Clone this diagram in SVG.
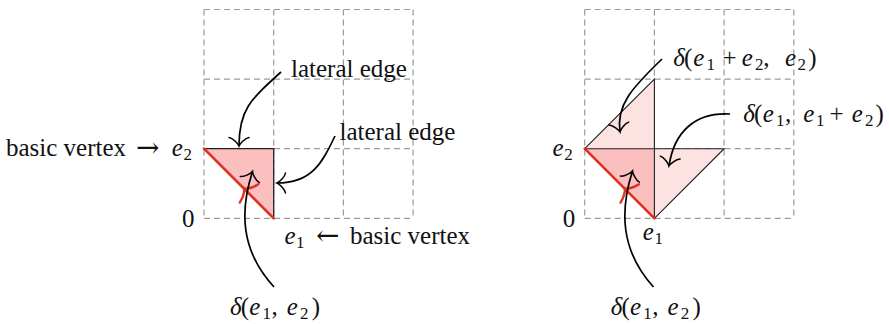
<svg xmlns="http://www.w3.org/2000/svg" width="889" height="324" viewBox="0 0 889 324">
<style>
  .grid { fill: none; stroke: #9a9a9a; stroke-width: 1.2; stroke-dasharray: 6 4; }
  .dark { fill: #fbbfbf; stroke: none; }
  .light { fill: #fde2e2; stroke: none; }
  .edge { fill: none; stroke: #222; stroke-width: 1.3; }
  .thin { fill: none; stroke: #222; stroke-width: 1.1; }
  .red { fill: none; stroke: #e0301e; stroke-width: 2.6; stroke-linecap: round; }
  .redtip { fill: none; stroke: #e0301e; stroke-width: 2.4; stroke-linecap: round; }
  .conn { fill: none; stroke: #000; stroke-width: 1.7; marker-end: url(#to); }
  text { font-family: "Liberation Serif", "Times New Roman", serif; font-size: 25px; fill: #111; }
  .i { font-style: italic; }
  .s { font-size: 17px; }
  .arr { font-family: "DejaVu Serif", serif; font-size: 28px; }
</style>
<defs>
  <marker id="to" markerUnits="userSpaceOnUse" viewBox="-12 -12 14 24" refX="0" refY="0" markerWidth="14" markerHeight="24" orient="auto" overflow="visible">
    <path d="M-8.5,-10 C-8,-6 -1.8,-0.6 0,0 C-1.8,0.6 -8,6 -8.5,10" fill="none" stroke="#000" stroke-width="1.5" stroke-linecap="round"/>
  </marker>
  <path id="rtip" d="M-7,-13 C-6,-7 -2,-1 0,0 C-2,1 -6,7 -7,13"/>
</defs>

<g id="grid-left">
  <path class="grid" d="M204,9.5 V218.3 M273.7,9.5 V218.3 M343.4,9.5 V218.3 M413.1,9.5 V218.3 M204,9.5 H413.1 M204,79.1 H413.1 M204,148.7 H413.1 M204,218.3 H413.1"/>
</g>
<g id="grid-right">
  <path class="grid" d="M584.7,9.5 V218.3 M654.4,9.5 V218.3 M724.1,9.5 V218.3 M793.8,9.5 V218.3 M584.7,9.5 H793.8 M584.7,79.1 H793.8 M584.7,148.7 H793.8 M584.7,218.3 H793.8"/>
</g>

<g id="simplex-left">
  <polygon class="dark" points="204,148.7 273.7,148.7 273.7,218.3"/>
  <path class="edge" d="M204,148.7 H273.7 V218.3"/>
  <path class="red" d="M204,148.7 L273.7,218.3"/>
  <use href="#rtip" class="redtip" transform="translate(244,188.5) rotate(225)"/>
</g>

<g id="simplices-right">
  <polygon class="light" points="584.7,148.7 654.4,79.1 654.4,148.7"/>
  <polygon class="light" points="654.4,148.7 724.1,148.7 654.4,218.3"/>
  <polygon class="dark" points="584.7,148.7 654.4,148.7 654.4,218.3"/>
  <path class="thin" d="M584.7,148.7 L654.4,79.1 V218.3 M584.7,148.7 H724.1 L654.4,218.3"/>
  <path class="red" d="M584.7,148.7 L654.4,218.3"/>
  <use href="#rtip" class="redtip" transform="translate(624.7,188.5) rotate(225)"/>
</g>

<g id="labels-left">
  <text x="6" y="156">basic vertex</text>
  <text class="arr" x="136" y="157">→</text>
  <text y="156"><tspan class="i" x="171.7">e</tspan><tspan class="s" x="183.5" y="160">2</tspan></text>
  <text x="291" y="77">lateral edge</text>
  <text x="339.5" y="140">lateral edge</text>
  <text x="182" y="227">0</text>
  <text y="244"><tspan class="i" x="284.5">e</tspan><tspan class="s" x="296" y="248">1</tspan></text>
  <text class="arr" x="316" y="245">←</text>
  <text x="350" y="244">basic vertex</text>
  <text y="315"><tspan class="i" x="230">δ</tspan><tspan x="240.7">(</tspan><tspan class="i" x="249.3">e</tspan><tspan class="s" x="262.5" y="319">1</tspan><tspan x="271.5" y="315">,</tspan><tspan class="i" x="286.7">e</tspan><tspan class="s" x="300" y="319">2</tspan><tspan x="311.7" y="315">)</tspan></text>
</g>

<g id="labels-right">
  <text y="156"><tspan class="i" x="552.4">e</tspan><tspan class="s" x="564.2" y="160">2</tspan></text>
  <text x="562.7" y="227">0</text>
  <text y="240"><tspan class="i" x="642.7">e</tspan><tspan class="s" x="654.5" y="244">1</tspan></text>
  <text y="66"><tspan class="i" x="673.3">δ</tspan><tspan x="684">(</tspan><tspan class="i" x="693.3">e</tspan><tspan class="s" x="706.5" y="70">1</tspan><tspan x="722.5" y="66">+</tspan><tspan class="i" x="741.7">e</tspan><tspan class="s" x="755" y="70">2</tspan><tspan x="763.3" y="66">,</tspan><tspan class="i" x="785">e</tspan><tspan class="s" x="797.5" y="70">2</tspan><tspan x="808.3" y="66">)</tspan></text>
  <text y="122"><tspan class="i" x="743.3">δ</tspan><tspan x="754">(</tspan><tspan class="i" x="762.7">e</tspan><tspan class="s" x="776" y="126">1</tspan><tspan x="785" y="122">,</tspan><tspan class="i" x="803.3">e</tspan><tspan class="s" x="816" y="126">1</tspan><tspan x="829.5" y="122">+</tspan><tspan class="i" x="851.7">e</tspan><tspan class="s" x="865" y="126">2</tspan><tspan x="875.5" y="122">)</tspan></text>
  <text y="315"><tspan class="i" x="610.7">δ</tspan><tspan x="621.4">(</tspan><tspan class="i" x="630">e</tspan><tspan class="s" x="643.2" y="319">1</tspan><tspan x="652.2" y="315">,</tspan><tspan class="i" x="667.4">e</tspan><tspan class="s" x="680.7" y="319">2</tspan><tspan x="692.4" y="315">)</tspan></text>
</g>

<g id="connectors">
  <path class="conn" d="M281,72 C250,100 239,110 239,146"/>
  <path class="conn" d="M335,136 C322,163 312,183 277,183"/>
  <path class="conn" d="M274,287 C240,250 240,210 252.5,171.5"/>
  <path class="conn" d="M662,59 C632,88 616,105 620,132"/>
  <path class="conn" d="M730,114 C695,112 674,132 669,166"/>
  <path class="conn" d="M653.5,287 C620,250 620,210 632.5,171"/>
</g>
</svg>
